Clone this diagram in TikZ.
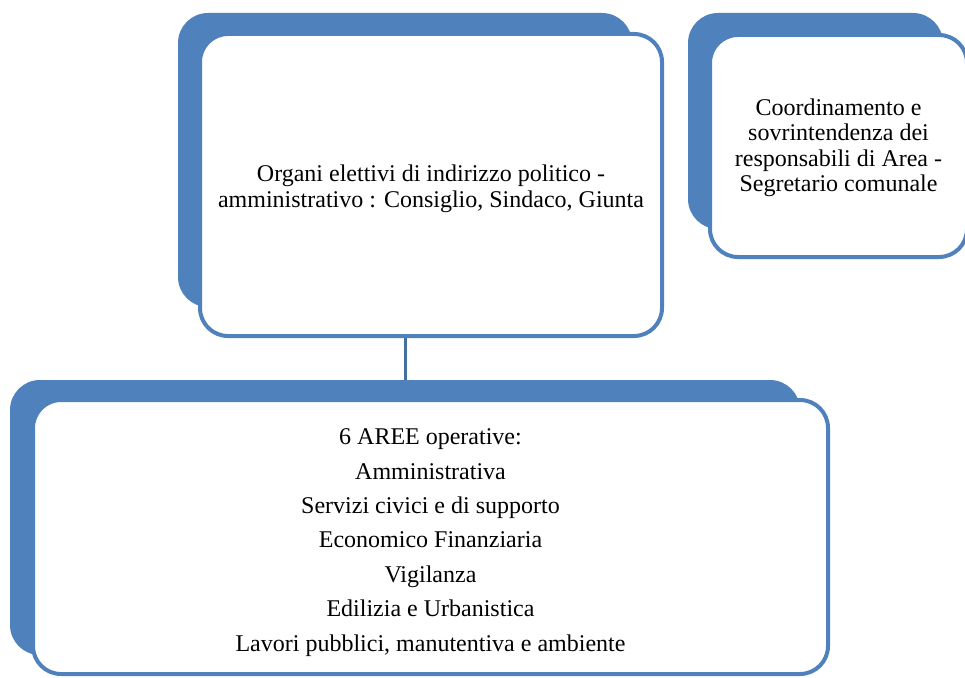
\documentclass[tikz,border=0pt]{standalone}
\usepackage{fontspec}
\setmainfont{Liberation Serif}
\definecolor{accblue}{HTML}{4F81BD}
\definecolor{connblue}{HTML}{41719C}
\begin{document}
\begin{tikzpicture}[x=1pt,y=-1pt,
  backbox/.style={fill=accblue, draw=none, rounded corners=30pt, inner sep=0pt},
  frontbox/.style={fill=white, draw=accblue, line width=4pt, rounded corners=28pt, inner sep=0pt},
  boxtext/.style={inner sep=0pt, align=center, font=\fontsize{24pt}{26pt}\selectfont},
  conn/.style={draw=connblue, line width=3pt}]
\useasboundingbox (0,0) rectangle (965,677);
% box 1
\node[backbox, minimum width=454pt, minimum height=294pt] (b1back) at (405,160) {};
\node[frontbox, minimum width=462pt, minimum height=302pt] (b1front) at (431,185) {};
\node[boxtext] (b1text) at ([yshift=-4pt]b1front.center)
  {Organi elettivi di indirizzo politico -\\amministrativo : Consiglio, Sindaco, Giunta};
% box 3
\node[backbox, minimum width=255pt, minimum height=216pt] (b3back) at (815.5,121) {};
\node[frontbox, minimum width=257pt, minimum height=222pt] (b3front) at (838.5,146) {};
\node[boxtext, font=\fontsize{24pt}{25.5pt}\selectfont] (b3text) at ([yshift=-2pt]b3front.center)
  {Coordinamento e\\sovrintendenza dei\\responsabili di Area -\\Segretario comunale};
% box 2
\node[backbox, minimum width=790pt, minimum height=275pt] (b2back) at (405,517.5) {};
\node[frontbox, minimum width=795pt, minimum height=274pt] (b2front) at (430.5,537) {};
\node[boxtext, font=\fontsize{24pt}{34.4pt}\selectfont] (b2text) at ([yshift=-5.5pt]b2front.center)
  {6 AREE operative:\\Amministrativa\\Servizi civici e di supporto\\Economico Finanziaria\\Vigilanza\\Edilizia e Urbanistica\\Lavori pubblici, manutentiva e ambiente};
% connector
\draw[conn] (b1back.south |- b1front.south) -- (b1back.south |- b2back.north);
\end{tikzpicture}
\end{document}
